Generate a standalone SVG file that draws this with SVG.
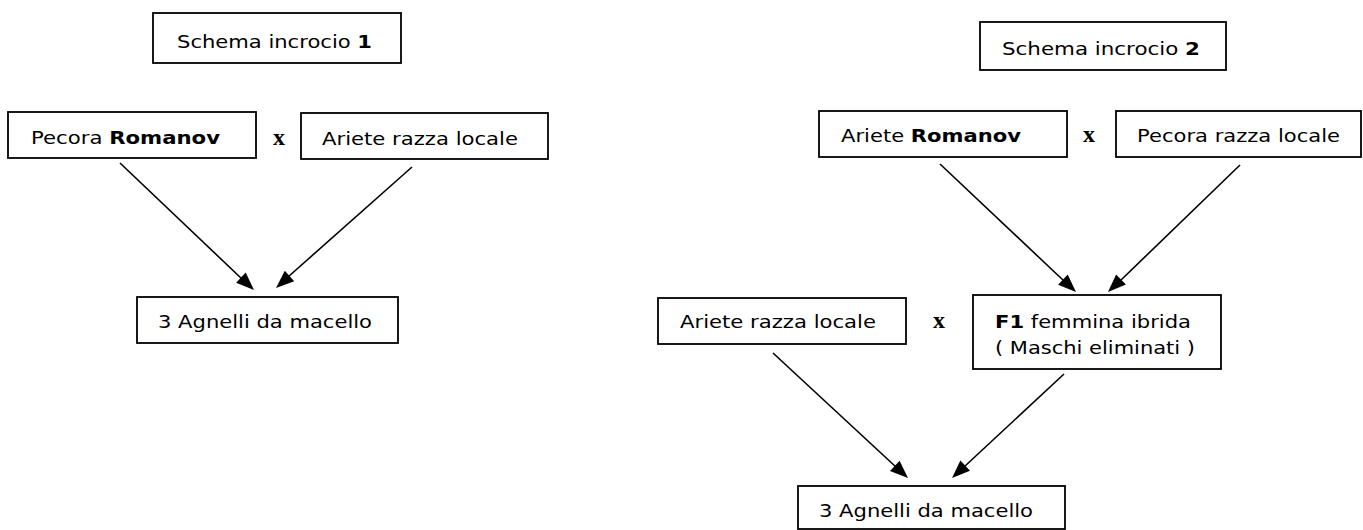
<svg xmlns="http://www.w3.org/2000/svg" width="1363" height="530" viewBox="0 0 1363 530">
<style>
.box{fill:#fff;stroke:#000;stroke-width:1.8}
.t{font-family:"DejaVu Sans",Verdana,sans-serif;font-size:18px;fill:#000}
.b{font-weight:bold}
.x{font-family:"Liberation Serif","Times New Roman",serif;font-weight:bold;font-size:24px;fill:#000}
.ln{stroke:#000;stroke-width:1.6;fill:none}
.ah{fill:#000;stroke:none}
</style>
<rect width="1363" height="530" fill="#fff"/>
<g id="connectors">
<line class="ln" x1="120" y1="163" x2="242" y2="279"/>
<path class="ah" d="M254,290 L236.1,282.7 L245.7,272.5 Z"/>
<line class="ln" x1="412" y1="167" x2="288" y2="277"/>
<path class="ah" d="M276,288 L284.8,270.8 L294.2,281.2 Z"/>
<line class="ln" x1="940" y1="164" x2="1064" y2="281"/>
<path class="ah" d="M1076,292 L1058.1,284.8 L1067.7,274.6 Z"/>
<line class="ln" x1="1240" y1="165" x2="1120" y2="281"/>
<path class="ah" d="M1108,292 L1116.1,274.5 L1125.9,284.5 Z"/>
<line class="ln" x1="773" y1="353" x2="896" y2="467"/>
<path class="ah" d="M908,478 L890,470.9 L899.6,460.7 Z"/>
<line class="ln" x1="1064" y1="374" x2="964" y2="467"/>
<path class="ah" d="M952,478 L960.4,460.6 L970,470.8 Z"/>
</g>
<g id="schema1">
<rect class="box" x="153" y="13" width="248" height="50"/>
<text class="t" x="177" y="48" textLength="195" lengthAdjust="spacingAndGlyphs">Schema incrocio <tspan class="b">1</tspan></text>
</g>
<g id="pecora-romanov">
<rect class="box" x="8" y="112" width="248" height="46"/>
<text class="t" x="31" y="144" textLength="189" lengthAdjust="spacingAndGlyphs">Pecora <tspan class="b">Romanov</tspan></text>
</g>
<g id="x1"><text class="x" x="273" y="145">x</text></g>
<g id="ariete-locale-1">
<rect class="box" x="301" y="113" width="247" height="46"/>
<text class="t" x="322" y="145" textLength="196" lengthAdjust="spacingAndGlyphs">Ariete razza locale</text>
</g>
<g id="agnelli-1">
<rect class="box" x="137" y="297" width="261" height="46"/>
<text class="t" x="158" y="328" textLength="214" lengthAdjust="spacingAndGlyphs">3 Agnelli da macello</text>
</g>
<g id="schema2">
<rect class="box" x="980" y="22" width="246" height="48"/>
<text class="t" x="1002" y="55" textLength="198" lengthAdjust="spacingAndGlyphs">Schema incrocio <tspan class="b">2</tspan></text>
</g>
<g id="ariete-romanov">
<rect class="box" x="819" y="111" width="248" height="46"/>
<text class="t" x="841" y="142" textLength="180" lengthAdjust="spacingAndGlyphs">Ariete <tspan class="b">Romanov</tspan></text>
</g>
<g id="x2"><text class="x" x="1083" y="142">x</text></g>
<g id="pecora-locale">
<rect class="box" x="1116" y="111" width="245" height="46"/>
<text class="t" x="1137" y="142" textLength="203" lengthAdjust="spacingAndGlyphs">Pecora razza locale</text>
</g>
<g id="ariete-locale-2">
<rect class="box" x="658" y="298" width="248" height="46"/>
<text class="t" x="680" y="328" textLength="196" lengthAdjust="spacingAndGlyphs">Ariete razza locale</text>
</g>
<g id="x3"><text class="x" x="933" y="328">x</text></g>
<g id="f1">
<rect class="box" x="973" y="295" width="248" height="74"/>
<text class="t" x="995" y="328" textLength="196" lengthAdjust="spacingAndGlyphs"><tspan class="b">F1</tspan> femmina ibrida</text>
<text class="t" x="995" y="354" textLength="200" lengthAdjust="spacingAndGlyphs">( Maschi eliminati )</text>
</g>
<g id="agnelli-2">
<rect class="box" x="798" y="486" width="267" height="43"/>
<text class="t" x="819" y="517" textLength="214" lengthAdjust="spacingAndGlyphs">3 Agnelli da macello</text>
</g>
</svg>
